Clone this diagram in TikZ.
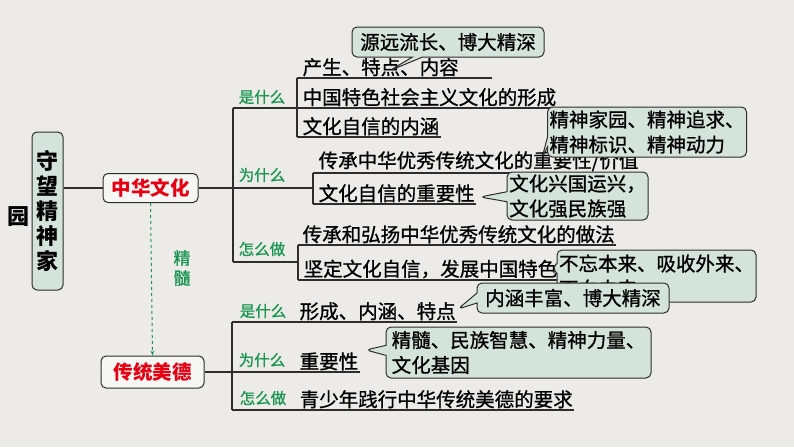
\documentclass[tikz,border=0pt]{standalone}
\usepackage{fontspec}
\newfontfamily\cjk[FakeBold=0.9]{Noto Sans CJK SC}
\newfontfamily\cjkhead{Noto Sans CJK SC}
\usepackage{tikz}
\usetikzlibrary{arrows.meta, shapes.callouts}

\definecolor{paper}{RGB}{236,235,231}
\definecolor{notefill}{RGB}{212,228,218}
\definecolor{askgreen}{RGB}{26,150,80}
\definecolor{inkline}{RGB}{45,45,45}
\definecolor{topicred}{RGB}{230,0,18}

\begin{document}
\begin{tikzpicture}[
    x=1pt, y=-1pt,
    font=\cjk\fontsize{19.5pt}{25pt}\selectfont,
    trunk/.style={draw=inkline, line width=1.3pt},
    item/.style={anchor=south west, inner sep=1.5pt},
    ask/.style={text=askgreen, inner sep=0pt, font=\cjk\fontsize{15.5pt}{18pt}\selectfont},
    topic/.style={
        rectangle, rounded corners=5pt,
        draw=inkline, line width=1pt,
        fill=white!55!paper,
        text=topicred, font=\cjkhead\bfseries\fontsize{19.5pt}{22pt}\selectfont
    },
    rootbox/.style={
        rectangle, rounded corners=5pt,
        draw=inkline, line width=1pt,
        fill=notefill,
        minimum width=31pt, minimum height=158pt,
        align=center, font=\cjkhead\bfseries\fontsize{22pt}{25pt}\selectfont
    },
    note/.style={
        rectangle callout, rounded corners=5pt,
        draw=inkline, line width=1pt,
        fill=notefill, inner sep=2pt, align=left,
        callout pointer width=10pt
    },
]

% ---------- Background ----------
\fill[paper] (0,0) rectangle (794,447);
\useasboundingbox (0,0) rectangle (794,447);

% ---------- Root and topics ----------
\node[rootbox] (root) at (47.5,211) {守\\望\\精\\神\\家};
\node[font=\cjkhead\bfseries\fontsize{22pt}{25pt}\selectfont, inner sep=0pt] (yuan) at (19,217) {园};

\node[topic, minimum width=95pt, minimum height=29pt] (cul) at (150.5,188) {中华文化};
\node[topic, minimum width=103pt, minimum height=32pt] (vir) at (152.5,372) {传统美德};

\draw[trunk] (root.east |- cul.west) -- (cul.west);
\draw[askgreen, dashed, line width=1pt, -{Stealth[length=5pt]}] (cul.south) -- (vir.north);
\node[ask, align=center, font=\cjk\fontsize{17pt}{20pt}\selectfont] (jingsui) at (182,268) {精\\髓};

% ---------- 中华文化 branches ----------
\coordinate (up1) at (233,108);
\coordinate (up3) at (233,262);
\coordinate (g1in) at (297,108);
\coordinate (g1top) at (297,78);
\coordinate (g1bot) at (297,137);
\coordinate (g2in) at (313,188);
\coordinate (g2top) at (313,173);
\coordinate (g2bot) at (313,204);
\coordinate (g3in) at (298,262);
\coordinate (g3top) at (298,245);
\coordinate (g3bot) at (298,280);

\draw[trunk] (cul.east) -- (g2in);
\draw[trunk] (up1) -- (up3);
\draw[trunk] (up1) -- (g1in);
\draw[trunk] (up3) -- (g3in);

\node[ask] (ask1) at (262,97) {是什么};
\node[ask] (ask2) at (262,175) {为什么};
\node[ask] (ask3) at (262,249) {怎么做};

\node[item] (a1) at (301,78) {产生、特点、内容};
\node[item] (a2) at (301,108) {中国特色社会主义文化的形成};
\node[item] (a3) at (301,137) {文化自信的内涵};
\draw[trunk] (g1top) -- (g1bot);
\draw[trunk] (g1top) -- ([xshift=32pt]a1.south east);
\draw[trunk] (g1in) -- (a2.south east);
\draw[trunk] (g1bot) -- (a3.south east);

\node[item] (b1) at (317,173) {传承中华优秀传统文化的重要性/价值};
\node[item] (b2) at (317,204) {文化自信的重要性};
\draw[trunk] (g2top) -- (g2bot);
\draw[trunk] (g2top) -- (b1.south east);
\draw[trunk] (g2bot) -- (b2.south east);

\node[item] (c1) at (301,245) {传承和弘扬中华优秀传统文化的做法};
\node[item] (c2) at (302,280) {坚定文化自信，发展中国特色社会主义文化};
\draw[trunk] (g3top) -- (g3bot);
\draw[trunk] (g3top) -- (c1.south east);
\draw[trunk] (g3bot) -- (c2.south east);

% ---------- 传统美德 branches ----------
\coordinate (lo1) at (232,322);
\coordinate (lo3) at (232,410);

\node[ask] (ask4) at (263,311) {是什么};
\node[ask] (ask5) at (262,360) {为什么};
\node[ask] (ask6) at (263,398) {怎么做};

\node[item] (d1) at (298,322) {形成、内涵、特点};
\node[item] (d2) at (298,372) {重要性};
\node[item] (d3) at (298,410) {青少年践行中华传统美德的要求};
\draw[trunk] (lo1) -- (lo3);
\draw[trunk] (lo1) -- (d1.south east);
\draw[trunk] (vir.east) -- (d2.south east);
\draw[trunk] (lo3) -- (d3.south east);

% ---------- Callouts ----------
\coordinate (p1) at (389,71);
\coordinate (p2) at (542,158);
\coordinate (p3) at (480,197);
\coordinate (p4) at (552,268);
\coordinate (p5) at (458,309);
\coordinate (p6) at (366,350);

\node[note, minimum width=192pt, minimum height=30pt, callout absolute pointer=(p1)] (n1) at (448,42) {源远流长、博大精深};
\node[note, minimum width=198pt, minimum height=50pt, callout absolute pointer=(p2)] (n2) at (647,132) {精神家园、精神追求、\\精神标识、精神动力};
\node[note, minimum width=141pt, minimum height=48pt, callout absolute pointer=(p3)] (n3) at (577.5,196) {文化兴国运兴，\\文化强民族强};
\node[note, minimum width=193pt, minimum height=52pt, callout absolute pointer=(p4)] (n4) at (656.5,276) {不忘本来、吸收外来、\\面向未来};
\node[note, minimum width=192pt, minimum height=30pt, callout absolute pointer=(p5)] (n5) at (573,298) {内涵丰富、博大精深};
\node[note, minimum width=265pt, minimum height=51pt, callout absolute pointer=(p6)] (n6) at (518.5,352.5) {精髓、民族智慧、精神力量、\\文化基因};

\end{tikzpicture}
\end{document}
